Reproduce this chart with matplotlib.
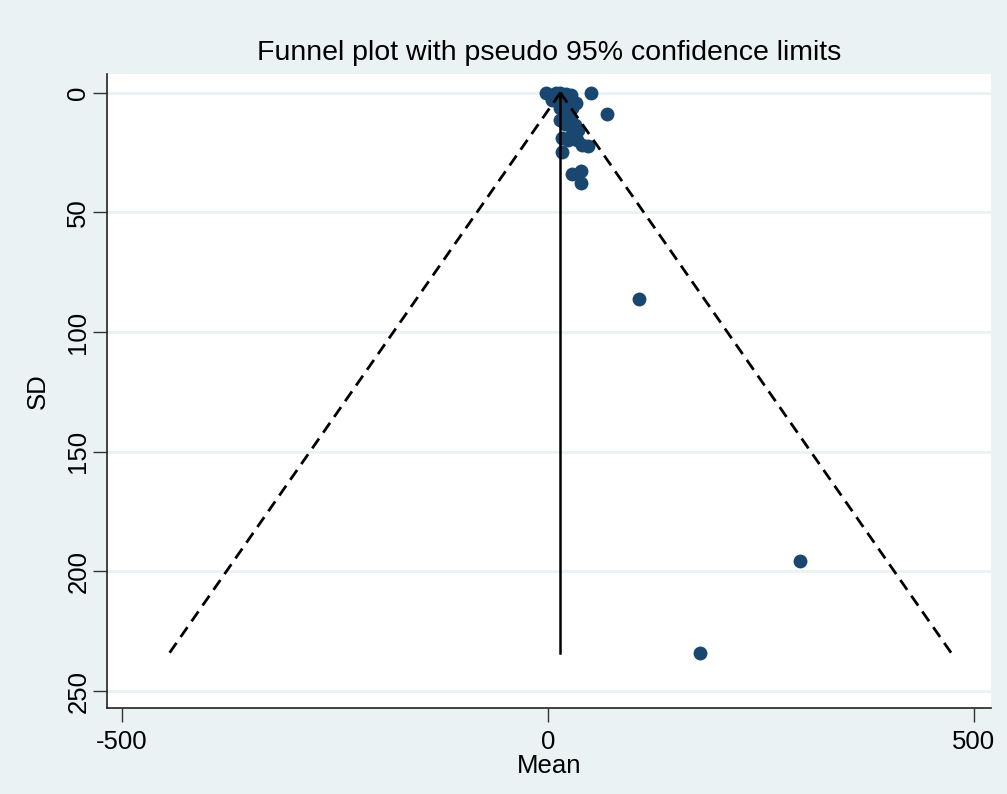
import numpy as np
import matplotlib
matplotlib.use('Agg')
import matplotlib.pyplot as plt

plt.rcParams['font.family'] = ['Liberation Sans', 'DejaVu Sans']
plt.rcParams['axes.unicode_minus'] = False

# study estimates
mean_vals = [-2, 3.5, 9, 14, 21, 27, 50.5,
             4.7, 11.7, 17.6, 25.8, 32.9,
             14, 21, 28, 69,
             14, 20, 25.8, 31.7, 35.2,
             16.4, 23.5, 28, 34, 40, 47, 16.4,
             28.2, 38.7, 38.7,
             106.8, 295.8, 178.4]
sd_vals = [0.3, 0.8, 0.2, 0.2, 0.4, 0.8, 0.1,
           2.9, 2.1, 3.3, 2.9, 4.2,
           6.3, 7.1, 6.3, 8.8,
           11.3, 13.0, 10.5, 13.4, 15.5,
           18.8, 19.6, 17.1, 19.6, 21.7, 22.2, 24.7,
           33.9, 32.6, 37.6,
           86.1, 195.7, 234.1]

pooled = 14.5
sd_max = 234.3

bg = '#EAF2F3'
navy = '#1A476F'

fig = plt.figure(figsize=(10.07, 7.94), dpi=100, facecolor=bg)
ax = fig.add_axes([0.1063, 0.1083, 0.8778, 0.7987])
ax.set_facecolor('white')

ax.scatter(mean_vals, sd_vals, s=100, color=navy, zorder=3, linewidths=0)

# funnel limits, drawn over the markers
sd_line = np.array([0, sd_max])
ax.plot(pooled - 1.96 * sd_line, sd_line, color='black', lw=2, ls=(0, (4.3, 2.6)), zorder=4)
ax.plot(pooled + 1.96 * sd_line, sd_line, color='black', lw=2, ls=(0, (4.3, 2.6)), zorder=4)
ax.plot([pooled, pooled], sd_line, color='black', lw=1.8, zorder=4)

ax.set_xlim(-517.6, 520)
ax.set_ylim(257.1, -7.9)
ax.set_xticks([-500, 0, 500])
ax.set_yticks([0, 50, 100, 150, 200, 250])
ax.grid(axis='y', color=bg, lw=2)
ax.set_axisbelow(True)

for s in ['top', 'right']:
    ax.spines[s].set_visible(False)
for s in ['left', 'bottom']:
    ax.spines[s].set_color('#222222')
    ax.spines[s].set_linewidth(1.2)

ax.tick_params(axis='both', direction='out', length=10, width=1, color='#333333',
               labelsize=18.5)
ax.tick_params(axis='x', pad=6)
ax.tick_params(axis='y', pad=2)
for lab in ax.get_yticklabels():
    lab.set_rotation(90)
    lab.set_va('center')

ax.set_xlabel('Mean', fontsize=18.5, labelpad=0)
ax.set_ylabel('SD', fontsize=18.5, labelpad=12)
ax.set_title('Funnel plot with pseudo 95% confidence limits', fontsize=20.5, pad=10)

fig.savefig('out.png', dpi=100, facecolor=bg)
